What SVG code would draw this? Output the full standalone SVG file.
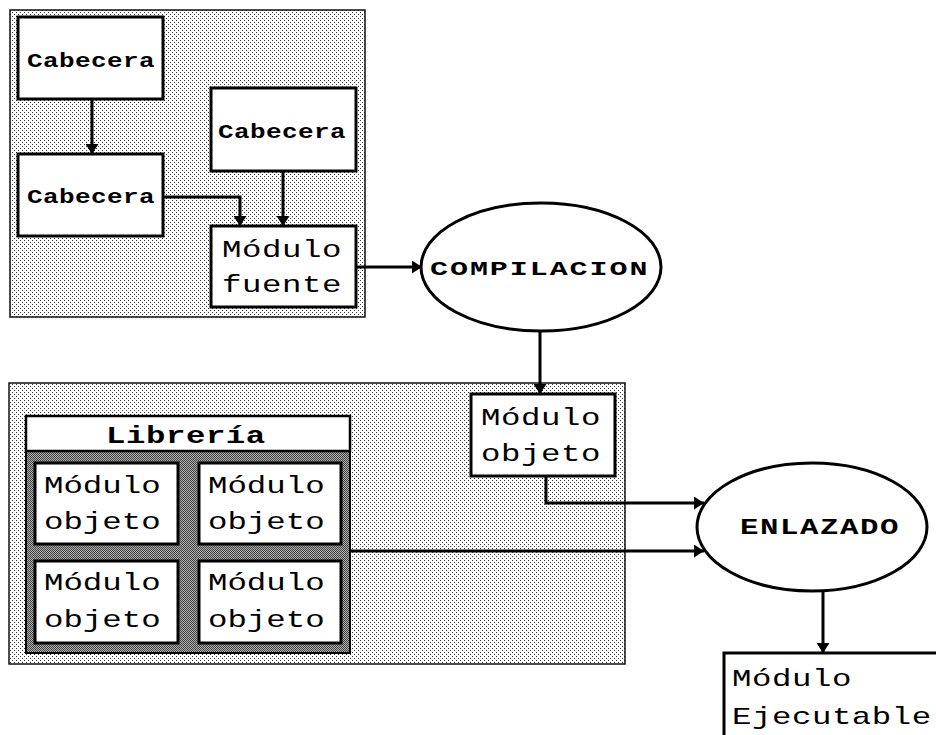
<svg xmlns="http://www.w3.org/2000/svg" width="936" height="735" viewBox="0 0 936 735">
<defs>
<pattern id="dots" width="4" height="4" patternUnits="userSpaceOnUse">
<rect width="4" height="4" fill="#fff"/>
<rect x="0" y="0" width="1" height="1" fill="#333"/>
<rect x="2" y="2" width="1" height="1" fill="#333"/>
</pattern>
<pattern id="dark" width="2" height="2" patternUnits="userSpaceOnUse">
<rect width="2" height="2" fill="#b0b0b0"/>
<rect x="0" y="0" width="1" height="1" fill="#404040"/>
<rect x="1" y="1" width="1" height="1" fill="#404040"/>
</pattern>
<marker id="ah" markerUnits="userSpaceOnUse" markerWidth="11" markerHeight="13" refX="10" refY="6.5" orient="auto">
<path d="M0,0 L10,6.5 L0,13 z" fill="#000"/>
</marker>
<style>
.panel{fill:url(#dots);stroke:#111;stroke-width:1.5}
.box{fill:#fff;stroke:#000;stroke-width:3}
.ell{fill:#fff;stroke:#000;stroke-width:3}
.conn{fill:none;stroke:#000;stroke-width:3;marker-end:url(#ah)}
text{font-family:"Liberation Mono","DejaVu Sans Mono",monospace;fill:#000}
.cab{font-size:20px;font-weight:bold;letter-spacing:0.3px}
.mod{font-size:24px;letter-spacing:0.4px}
.modb{font-size:24px;letter-spacing:0px}
.comp{font-size:20px;font-weight:bold;letter-spacing:1.3px}
.enl{font-size:22px;font-weight:bold;letter-spacing:1.1px}
.lib{font-size:24px;font-weight:bold;letter-spacing:0.4px}
</style>
</defs>

<g id="panel-top"><rect class="panel" x="10" y="10" width="355" height="307"/></g>
<g id="panel-bottom"><rect class="panel" x="9" y="383" width="616" height="281"/></g>

<g id="cabecera1"><rect class="box" x="18" y="17" width="145" height="82"/><text class="cab" transform="translate(27,67) scale(1.3,1)">Cabecera</text></g>
<g id="cabecera2"><rect class="box" x="18" y="154" width="145" height="82"/><text class="cab" transform="translate(27,203) scale(1.3,1)">Cabecera</text></g>
<g id="cabecera3"><rect class="box" x="211" y="88" width="145" height="83"/><text class="cab" transform="translate(218,138) scale(1.3,1)">Cabecera</text></g>
<g id="modulo-fuente"><rect class="box" x="211" y="226" width="145" height="81"/><text class="mod" transform="translate(222,257) scale(1.35,1)">Módulo</text><text class="mod" transform="translate(222,292) scale(1.35,1)">fuente</text></g>

<g id="compilacion"><ellipse class="ell" cx="541" cy="267" rx="120" ry="64"/><text class="comp" transform="translate(430,275) scale(1.5,1)">COMPILACION</text></g>

<g id="modulo-objeto"><rect class="box" x="471" y="394" width="144" height="82"/><text class="mod" transform="translate(481,425) scale(1.35,1)">Módulo</text><text class="mod" transform="translate(481,461) scale(1.35,1)">objeto</text></g>

<g id="libreria">
<rect x="26" y="451" width="324" height="202" fill="url(#dark)" stroke="#000" stroke-width="2"/>
<rect x="26" y="416" width="324" height="35" fill="#fff" stroke="#000" stroke-width="2.5"/>
<text class="lib" transform="translate(106,443) scale(1.35,1)">Librería</text>
<g id="lib-obj1"><rect class="box" x="35" y="463" width="143" height="81"/><text class="modb" transform="translate(44,493) scale(1.35,1)">Módulo</text><text class="modb" transform="translate(44,529) scale(1.35,1)">objeto</text></g>
<g id="lib-obj2"><rect class="box" x="199" y="463" width="142" height="81"/><text class="modb" transform="translate(208,493) scale(1.35,1)">Módulo</text><text class="modb" transform="translate(208,529) scale(1.35,1)">objeto</text></g>
<g id="lib-obj3"><rect class="box" x="35" y="561" width="143" height="82"/><text class="modb" transform="translate(44,590) scale(1.35,1)">Módulo</text><text class="modb" transform="translate(44,627) scale(1.35,1)">objeto</text></g>
<g id="lib-obj4"><rect class="box" x="199" y="561" width="142" height="82"/><text class="modb" transform="translate(208,590) scale(1.35,1)">Módulo</text><text class="modb" transform="translate(208,627) scale(1.35,1)">objeto</text></g>
</g>

<g id="enlazado"><ellipse class="ell" cx="812" cy="527" rx="115" ry="64"/><text class="enl" transform="translate(740,534) scale(1.4,1)">ENLAZADO</text></g>

<g id="modulo-ejecutable"><rect class="box" x="724" y="653" width="220" height="90"/><text class="mod" transform="translate(732,686) scale(1.35,1)">Módulo</text><text class="mod" transform="translate(732,724) scale(1.35,1)">Ejecutable</text></g>

<g id="connectors">
<path class="conn" d="M92 99 V154"/>
<path class="conn" d="M163 197 H240 V226"/>
<path class="conn" d="M283 171 V226"/>
<path class="conn" d="M356 267 H422"/>
<path class="conn" d="M540 332 V394"/>
<path class="conn" d="M546 476 V503 H704"/>
<path class="conn" d="M350 551 H704"/>
<path class="conn" d="M823 591 V653"/>
</g>
</svg>
